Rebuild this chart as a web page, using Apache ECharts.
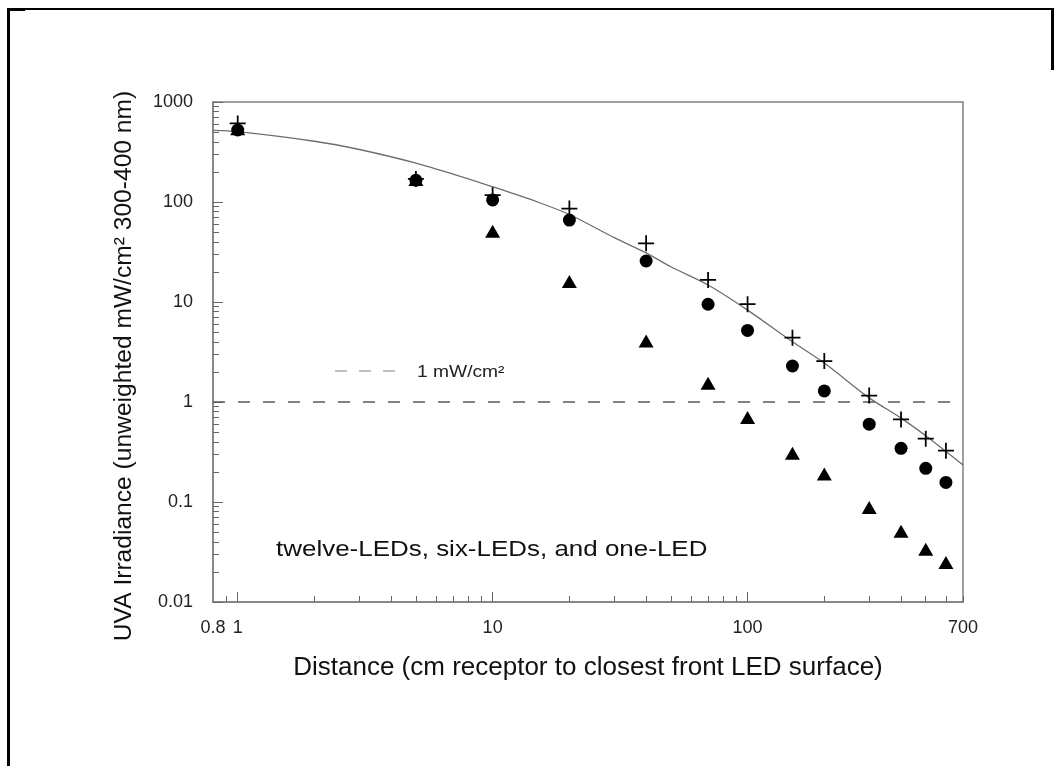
<!DOCTYPE html>
<html>
<head>
<meta charset="utf-8">
<script src="https://cdn.jsdelivr.net/npm/echarts@6/dist/echarts.min.js"></script>
<style>
  html, body { margin: 0; padding: 0; background: #fff; }
  #chart { width: 1057px; height: 766px; }
</style>
</head>
<body>
<div id="chart"></div>
<script>
// ---- data ----
const distances = [1, 5, 10, 20, 40, 70, 100, 150, 200, 300, 400, 500, 600];
const twelveLEDs = [610, 170, 117, 86, 38.6, 16.6, 9.5, 4.4, 2.57, 1.16, 0.67, 0.43, 0.326];
const sixLEDs = [525, 165, 105, 66, 25.7, 9.5, 5.2, 2.29, 1.29, 0.6, 0.344, 0.217, 0.157];
const oneLED = [540, 168, 51, 16, 4.07, 1.54, 0.70, 0.307, 0.19, 0.088, 0.051, 0.0336, 0.0249];

const fitX = [0.8, 1, 2, 3, 5, 7, 10, 15, 20, 30, 40, 50, 70, 100, 150, 200, 300, 400, 500, 600, 700];
const fitY = [520, 505, 405, 335, 245, 190, 142, 100, 75, 44, 31, 22.5, 14.8, 8.3, 4.0, 2.45, 1.1, 0.69, 0.46, 0.32, 0.234];

const refX = [0.8, 700];
const refY = [1, 1];

const xTickLabels = [0.8, 1, 10, 100, 700];
const xMajorTicks = [1, 10, 100];
const xMinorTicks = [0.9, 2, 3, 4, 5, 6, 7, 8, 9, 20, 30, 40, 50, 60, 70, 80, 90, 200, 300, 400, 500, 600, 700];
const yTickLabels = [0.01, 0.1, 1, 10, 100, 1000];
const yMinorTicks = [0.02,0.03,0.04,0.05,0.06,0.07,0.08,0.09, 0.2,0.3,0.4,0.5,0.6,0.7,0.8,0.9,
                     2,3,4,5,6,7,8,9, 20,30,40,50,60,70,80,90, 200,300,400,500,600,700,800,900];

const yTitle = 'UVA Irradiance (unweighted mW/cm² 300-400 nm)';
const xTitle = 'Distance (cm receptor to closest front LED surface)';
const noteText = 'twelve-LEDs, six-LEDs, and one-LED';
const refLabel = '1 mW/cm²';

const zip = (xs, ys) => xs.map((x, i) => [x, ys[i]]);

const FONT = 'Liberation Sans, Arial, Helvetica, sans-serif';
const plusPath = 'path://M4.45,0h1.1v4.45h4.45v1.1h-4.45v4.45h-1.1v-4.45h-4.45v-1.1h4.45z';

const chart = echarts.init(document.getElementById('chart'), null, { renderer: 'canvas' });

const xBase = { type: 'log', logBase: 10, min: 0.8, max: 700, gridIndex: 0, position: 'bottom' };
const yBase = { type: 'log', logBase: 10, min: 0.01, max: 1000, gridIndex: 0, position: 'left' };

chart.setOption({
  animation: false,
  backgroundColor: '#fff',
  textStyle: { fontFamily: FONT },
  grid: {
    left: 213, top: 102, width: 750, height: 500,
    show: true, borderColor: '#808080', borderWidth: 1.5, backgroundColor: 'transparent'
  },
  xAxis: [
    Object.assign({}, xBase, {
      name: xTitle, nameLocation: 'middle', nameGap: 53,
      nameTextStyle: { fontSize: 26, color: '#111', fontFamily: FONT },
      axisLine: { show: true, lineStyle: { color: '#808080', width: 1.5 } },
      axisTick: { show: true, inside: true, length: 10, customValues: xMajorTicks, lineStyle: { color: '#666', width: 1 } },
      axisLabel: { show: true, customValues: xTickLabels, margin: 17, fontSize: 18, color: '#222', fontFamily: FONT },
      splitLine: { show: false }, minorTick: { show: false }
    }),
    Object.assign({}, xBase, {
      axisLine: { show: false },
      axisTick: { show: true, inside: true, length: 6, customValues: xMinorTicks, lineStyle: { color: '#666', width: 1 } },
      axisLabel: { show: false }, splitLine: { show: false }
    })
  ],
  yAxis: [
    Object.assign({}, yBase, {
      name: yTitle, nameLocation: 'middle', nameGap: 76, nameRotate: 90,
      nameTextStyle: { fontSize: 24.6, color: '#111', fontFamily: FONT, padding: [0, 28, 0, 0] },
      axisLine: { show: true, lineStyle: { color: '#808080', width: 1.5 } },
      axisTick: { show: true, inside: true, length: 10, customValues: yTickLabels, lineStyle: { color: '#666', width: 1 } },
      axisLabel: { show: true, customValues: yTickLabels, margin: 20, fontSize: 18, color: '#222', fontFamily: FONT,
                   formatter: v => String(+v.toPrecision(6)) },
      splitLine: { show: false }, minorTick: { show: false }
    }),
    Object.assign({}, yBase, {
      axisLine: { show: false },
      axisTick: { show: true, inside: true, length: 6, customValues: yMinorTicks, lineStyle: { color: '#666', width: 1 } },
      axisLabel: { show: false }, splitLine: { show: false }
    })
  ],
  series: [
    {
      name: 'fit', type: 'line', xAxisIndex: 0, yAxisIndex: 0,
      data: zip(fitX, fitY), smooth: 0.3, showSymbol: false, symbol: 'none',
      lineStyle: { color: '#6e6e6e', width: 1.3 }, z: 2, silent: true
    },
    {
      name: '1 mW/cm²', type: 'line', xAxisIndex: 0, yAxisIndex: 0,
      data: zip(refX, refY), showSymbol: false, symbol: 'none',
      lineStyle: { color: '#5a5a5a', width: 1.6, type: [12, 13] }, z: 2, silent: true
    },
    {
      name: 'one-LED', type: 'scatter', xAxisIndex: 0, yAxisIndex: 0,
      data: zip(distances, oneLED), symbol: 'triangle', symbolSize: [15, 13],
      itemStyle: { color: '#000', opacity: 1 }, z: 3
    },
    {
      name: 'six-LEDs', type: 'scatter', xAxisIndex: 0, yAxisIndex: 0,
      data: zip(distances, sixLEDs), symbol: 'circle', symbolSize: 13,
      itemStyle: { color: '#000', opacity: 1 }, z: 4
    },
    {
      name: 'twelve-LEDs', type: 'scatter', xAxisIndex: 0, yAxisIndex: 0,
      data: zip(distances, twelveLEDs), symbol: plusPath, symbolSize: 16,
      itemStyle: { color: '#000', opacity: 1 }, z: 5
    }
  ],
  graphic: [
    // outer frame
    { type: 'rect', shape: { x: 7, y: 8, width: 3, height: 758 }, style: { fill: '#000' }, silent: true },
    { type: 'rect', shape: { x: 7, y: 8, width: 1047, height: 2 }, style: { fill: '#000' }, silent: true },
    { type: 'rect', shape: { x: 7, y: 8, width: 18, height: 3 }, style: { fill: '#000' }, silent: true },
    { type: 'rect', shape: { x: 1051, y: 8, width: 3, height: 62 }, style: { fill: '#000' }, silent: true },
    // reference line legend sample
    { type: 'line', shape: { x1: 335, y1: 371, x2: 396, y2: 371 },
      style: { stroke: '#aaaaaa', lineWidth: 1.6, lineDash: [12, 12] }, silent: true },
    { type: 'text', x: 417, y: 373, scaleX: 1.2,
      style: { text: refLabel, font: '16px ' + FONT, fill: '#222', verticalAlign: 'middle' }, silent: true },
    // note
    { type: 'text', x: 276, y: 550, scaleX: 1.18,
      style: { text: noteText, font: '22px ' + FONT, fill: '#111', verticalAlign: 'middle' }, silent: true }
  ]
});
</script>
</body>
</html>
